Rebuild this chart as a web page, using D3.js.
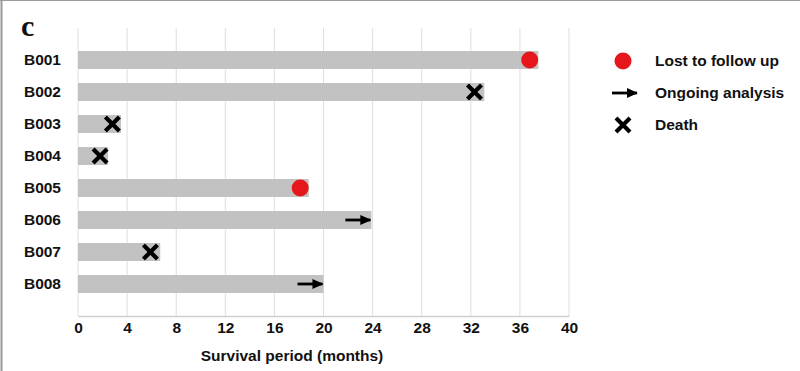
<!DOCTYPE html>
<html>
<head>
<meta charset="utf-8">
<script src="https://cdn.jsdelivr.net/npm/d3@7/dist/d3.min.js"></script>
<style>
    body { margin: 0; background: #fff; }
    svg { display: block; }
    .lbl { font-family: "Liberation Sans", Arial, sans-serif; font-weight: bold; font-size: 15.5px; fill: #111; }
</style>
</head>
<body>
<svg id="chart" width="800" height="371"></svg>
<script>
'use strict';

// patients, survival (months) and what happened at the end
var patients = ["B001", "B002", "B003", "B004", "B005", "B006", "B007", "B008"];
var survival = [37.5, 33.1, 3.5, 2.45, 18.8, 23.9, 6.7, 20.0];
var eventAt = [36.8, 32.3, 2.8, 1.8, 18.1, 23.9, 5.9, 20.0];
var outcome = ["lost", "death", "death", "death", "lost", "ongoing", "death", "ongoing"];
var xTicks = [0, 4, 8, 12, 16, 20, 24, 28, 32, 36, 40];
var legendItems = [
    {key: "lost", label: "Lost to follow up"},
    {key: "ongoing", label: "Ongoing analysis"},
    {key: "death", label: "Death"}
];

var svg = d3.select("#chart");
var plot = {left: 78, right: 569, top: 28, bottom: 316};

var x = d3.scaleLinear().domain([0, 40]).range([plot.left, plot.right]);
var y = d3.scalePoint().domain(patients).range([plot.top, plot.bottom]).padding(1);
var barHeight = 18;

// frame lines (left + top)
svg.append("line").attr("x1", 1.5).attr("x2", 1.5).attr("y1", 0).attr("y2", 371)
    .attr("stroke", "#9a9a9a").attr("stroke-width", 2);
svg.append("line").attr("x1", 0).attr("x2", 800).attr("y1", 0.5).attr("y2", 0.5)
    .attr("stroke", "#9a9a9a").attr("stroke-width", 1);

// panel letter
svg.append("text").attr("x", 21).attr("y", 36)
    .style("font-family", "'Liberation Serif', 'Times New Roman', serif")
    .style("font-weight", "bold").style("font-size", "30px").style("fill", "#111")
    .text("c");

// grid
svg.append("g").selectAll("line").data(xTicks).enter().append("line")
    .attr("x1", function(d) { return x(d); })
    .attr("x2", function(d) { return x(d); })
    .attr("y1", plot.top).attr("y2", plot.bottom)
    .attr("stroke", "#dedede").attr("stroke-width", 1);

// x axis
var xAxis = svg.append("g")
    .attr("transform", "translate(0," + plot.bottom + ")")
    .call(d3.axisBottom(x).tickValues(xTicks).tickSize(0).tickPadding(6));
xAxis.select(".domain").attr("stroke", "#cfcfcf").attr("stroke-width", 1.5);
xAxis.selectAll("text").attr("class", "lbl").attr("font-size", null).attr("font-family", null);

svg.append("text").attr("class", "lbl")
    .attr("x", 292).attr("y", 361).attr("text-anchor", "middle")
    .text("Survival period (months)");

// y labels
svg.append("g").selectAll("text").data(patients).enter().append("text")
    .attr("class", "lbl")
    .attr("x", 61).attr("y", function(d) { return y(d); })
    .attr("dy", "0.35em").attr("text-anchor", "end")
    .text(function(d) { return d; });

var rows = patients.map(function(p, i) {
    return {id: p, months: survival[i], at: eventAt[i], outcome: outcome[i]};
});

// bars
svg.append("g").selectAll("rect").data(rows).enter().append("rect")
    .attr("x", x(0))
    .attr("y", function(d) { return y(d.id) - barHeight / 2; })
    .attr("width", function(d) { return x(d.months) - x(0); })
    .attr("height", barHeight)
    .attr("fill", "#c2c2c2");

// arrow marker
svg.append("defs").append("marker")
    .attr("id", "head").attr("viewBox", "0 0 10 10")
    .attr("refX", 9).attr("refY", 5)
    .attr("markerWidth", 4).attr("markerHeight", 4)
    .attr("markerUnits", "strokeWidth").attr("orient", "auto")
    .append("path").attr("d", "M0,0.5 L10,5 L0,9.5 Z").attr("fill", "#000");

function drawSymbol(g, kind, cx, cy) {
    if (kind === "lost") {
        g.append("circle").attr("cx", cx).attr("cy", cy).attr("r", 8.5).attr("fill", "#e5161c");
    } else if (kind === "death") {
        var s = 7;
        g.append("path")
            .attr("d", "M" + (cx - s) + "," + (cy - s) + "L" + (cx + s) + "," + (cy + s) +
                "M" + (cx - s) + "," + (cy + s) + "L" + (cx + s) + "," + (cy - s))
            .attr("stroke", "#000").attr("stroke-width", 4.2).attr("fill", "none");
    } else {
        // ongoing: arrow ending at cx
        g.append("line").attr("x1", cx - 26).attr("x2", cx - 1)
            .attr("y1", cy).attr("y2", cy)
            .attr("stroke", "#000").attr("stroke-width", 2.8)
            .attr("marker-end", "url(#head)");
    }
}

var markers = svg.append("g");
rows.forEach(function(d) {
    drawSymbol(markers, d.outcome, x(d.at), y(d.id));
});

// legend
var legend = svg.append("g");
legendItems.forEach(function(item, i) {
    var ly = 61 + i * 32;
    if (item.key === "ongoing") {
        drawSymbol(legend, item.key, 638, ly);
    } else {
        drawSymbol(legend, item.key, 623, ly);
    }
    legend.append("text").attr("class", "lbl")
        .attr("x", 655).attr("y", ly).attr("dy", "0.35em")
        .text(item.label);
});
</script>
</body>
</html>
